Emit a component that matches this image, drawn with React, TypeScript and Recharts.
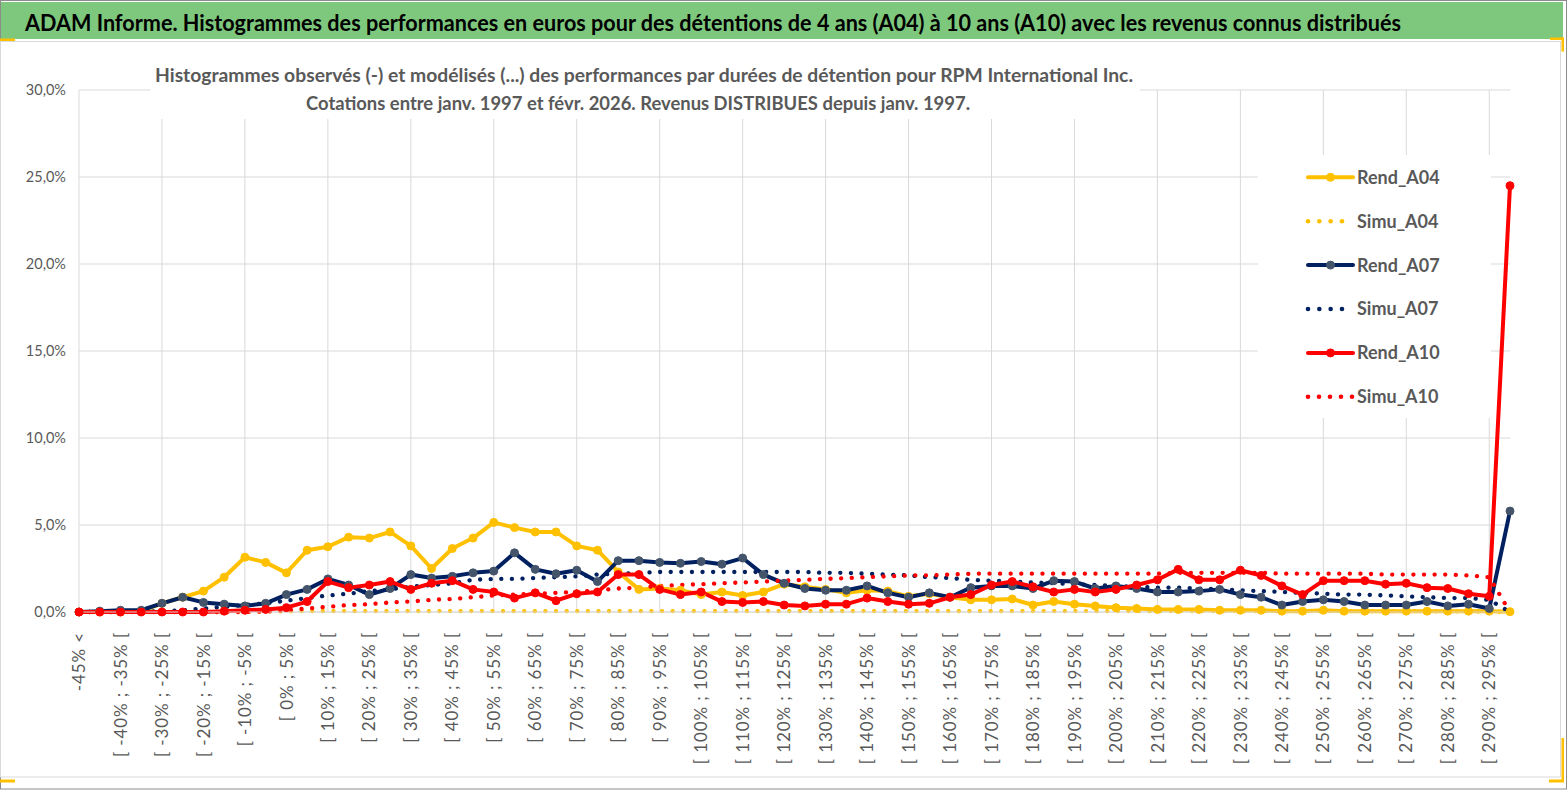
import React from 'react';
import { LineChart, Line, XAxis, YAxis, CartesianGrid, Legend } from 'recharts';

const categories = [
  '-45% <',
  '[ -45% ; -40% [', '[ -40% ; -35% [', '[ -35% ; -30% [', '[ -30% ; -25% [', '[ -25% ; -20% [',
  '[ -20% ; -15% [', '[ -15% ; -10% [', '[ -10% ; -5% [', '[ -5% ; 0% [', '[ 0% ; 5% [',
  '[ 5% ; 10% [', '[ 10% ; 15% [', '[ 15% ; 20% [', '[ 20% ; 25% [', '[ 25% ; 30% [',
  '[ 30% ; 35% [', '[ 35% ; 40% [', '[ 40% ; 45% [', '[ 45% ; 50% [', '[ 50% ; 55% [',
  '[ 55% ; 60% [', '[ 60% ; 65% [', '[ 65% ; 70% [', '[ 70% ; 75% [', '[ 75% ; 80% [',
  '[ 80% ; 85% [', '[ 85% ; 90% [', '[ 90% ; 95% [', '[ 95% ; 100% [', '[ 100% ; 105% [',
  '[ 105% ; 110% [', '[ 110% ; 115% [', '[ 115% ; 120% [', '[ 120% ; 125% [', '[ 125% ; 130% [',
  '[ 130% ; 135% [', '[ 135% ; 140% [', '[ 140% ; 145% [', '[ 145% ; 150% [', '[ 150% ; 155% [',
  '[ 155% ; 160% [', '[ 160% ; 165% [', '[ 165% ; 170% [', '[ 170% ; 175% [', '[ 175% ; 180% [',
  '[ 180% ; 185% [', '[ 185% ; 190% [', '[ 190% ; 195% [', '[ 195% ; 200% [', '[ 200% ; 205% [',
  '[ 205% ; 210% [', '[ 210% ; 215% [', '[ 215% ; 220% [', '[ 220% ; 225% [', '[ 225% ; 230% [',
  '[ 230% ; 235% [', '[ 235% ; 240% [', '[ 240% ; 245% [', '[ 245% ; 250% [', '[ 250% ; 255% [',
  '[ 255% ; 260% [', '[ 260% ; 265% [', '[ 265% ; 270% [', '[ 270% ; 275% [', '[ 275% ; 280% [',
  '[ 280% ; 285% [', '[ 285% ; 290% [', '[ 290% ; 295% [',
  '> 295%',
];

const rendA04 = [
  0, 0, 0, 0.05, 0.5, 0.85, 1.2, 2.0, 3.15, 2.85,
  2.25, 3.55, 3.75, 4.3, 4.25, 4.6, 3.8, 2.5, 3.65, 4.25,
  5.15, 4.85, 4.6, 4.6, 3.8, 3.55, 2.3, 1.3, 1.35, 1.25,
  1.0, 1.15, 0.95, 1.15, 1.6, 1.45, 1.3, 1.1, 1.25, 1.2,
  0.9, 1.05, 0.85, 0.7, 0.7, 0.75, 0.4, 0.6, 0.45, 0.35,
  0.25, 0.2, 0.15, 0.15, 0.15, 0.1, 0.1, 0.1, 0.05, 0.05,
  0.1, 0.05, 0.05, 0.05, 0.05, 0.05, 0.05, 0.05, 0.05, 0.02,
];

const simuA04 = [
  0, 0, 0, 0, 0, 0, 0, 0, 0, 0.02,
  0.04, 0.05, 0.05, 0.05, 0.05, 0.05, 0.05, 0.05, 0.05, 0.05,
  0.05, 0.05, 0.05, 0.05, 0.05, 0.05, 0.05, 0.05, 0.05, 0.05,
  0.05, 0.05, 0.05, 0.05, 0.05, 0.05, 0.05, 0.05, 0.05, 0.05,
  0.05, 0.05, 0.05, 0.05, 0.05, 0.05, 0.05, 0.05, 0.05, 0.05,
  0.05, 0.05, 0.05, 0.05, 0.05, 0.05, 0.05, 0.05, 0.05, 0.05,
  0.05, 0.05, 0.05, 0.05, 0.05, 0.04, 0.04, 0.03, 0.03, 0,
];

const rendA07 = [
  0, 0.05, 0.1, 0.1, 0.5, 0.85, 0.55, 0.45, 0.35, 0.5,
  1.0, 1.3, 1.9, 1.55, 1.0, 1.35, 2.15, 1.95, 2.05, 2.25,
  2.35, 3.4, 2.45, 2.2, 2.4, 1.75, 2.95, 2.95, 2.85, 2.8,
  2.9, 2.75, 3.1, 2.15, 1.65, 1.35, 1.25, 1.25, 1.5, 1.1,
  0.85, 1.1, 0.85, 1.4, 1.5, 1.5, 1.35, 1.8, 1.75, 1.35,
  1.5, 1.35, 1.15, 1.15, 1.2, 1.3, 1.0, 0.85, 0.4, 0.6,
  0.7, 0.6, 0.4, 0.4, 0.4, 0.6, 0.35, 0.45, 0.2, 5.8,
];

const simuA07 = [
  0, 0, 0, 0.02, 0.05, 0.1, 0.2, 0.3, 0.4, 0.5,
  0.65, 0.8, 0.95, 1.05, 1.2, 1.3, 1.45, 1.55, 1.65, 1.85,
  1.9, 1.9, 1.95, 2.0, 2.05, 2.15, 2.2, 2.25, 2.3, 2.3,
  2.3, 2.3, 2.3, 2.3, 2.3, 2.3, 2.25, 2.25, 2.2, 2.15,
  2.1, 2.0, 1.95, 1.85, 1.8, 1.75, 1.7, 1.65, 1.6, 1.55,
  1.5, 1.45, 1.4, 1.4, 1.35, 1.3, 1.25, 1.2, 1.15, 1.1,
  1.05, 1.0, 1.0, 0.95, 0.9, 0.85, 0.8, 0.8, 0.7, 0,
];

const rendA10 = [
  0, 0, 0, 0, 0, 0, 0, 0.05, 0.1, 0.15,
  0.25, 0.6, 1.75, 1.4, 1.55, 1.75, 1.3, 1.65, 1.8, 1.3,
  1.15, 0.8, 1.1, 0.65, 1.05, 1.15, 2.15, 2.15, 1.3, 1.0,
  1.15, 0.6, 0.55, 0.6, 0.4, 0.35, 0.45, 0.45, 0.8, 0.6,
  0.45, 0.5, 0.85, 1.0, 1.55, 1.75, 1.45, 1.15, 1.3, 1.15,
  1.3, 1.55, 1.85, 2.45, 1.85, 1.85, 2.4, 2.1, 1.5, 1.0,
  1.8, 1.8, 1.8, 1.6, 1.65, 1.4, 1.35, 1.05, 0.9, 24.5,
];

const simuA10 = [
  0, 0, 0, 0, 0, 0, 0, 0, 0, 0.03,
  0.1, 0.2, 0.3, 0.4, 0.45, 0.55, 0.6, 0.7, 0.75, 0.85,
  0.95, 1.0, 1.05, 1.1, 1.15, 1.25, 1.35, 1.4, 1.5, 1.55,
  1.6, 1.65, 1.7, 1.75, 1.8, 1.85, 1.9, 1.95, 2.0, 2.05,
  2.1, 2.1, 2.15, 2.2, 2.2, 2.2, 2.2, 2.2, 2.2, 2.2,
  2.2, 2.2, 2.2, 2.25, 2.25, 2.25, 2.25, 2.25, 2.2, 2.2,
  2.2, 2.2, 2.2, 2.15, 2.15, 2.15, 2.15, 2.1, 2.0, 0,
];

const yTicks = [0, 5, 10, 15, 20, 25, 30];

const TITLE = 'ADAM Informe. Histogrammes des performances en euros pour des détentions de 4 ans (A04) à 10 ans (A10) avec les revenus connus distribués';
const SUB1 = 'Histogrammes observés (-) et modélisés (...) des performances par durées de détention pour RPM International Inc.';
const SUB2 = 'Cotations entre janv. 1997 et févr. 2026. Revenus DISTRIBUES depuis janv. 1997.';

const data = categories.map((cat, i) => ({
  cat,
  Rend_A04: rendA04[i],
  Simu_A04: simuA04[i],
  Rend_A07: rendA07[i],
  Simu_A07: simuA07[i],
  Rend_A10: rendA10[i],
  Simu_A10: simuA10[i],
}));

const W = 1567;
const H = 791;
const TXT = '#595959';
const GRID = '#D9D9D9';
const YELLOW = '#FFC000';
const NAVY = '#002060';
const NAVY_MK = '#44546A';
const RED = '#FF0000';
const GOLD = '#FFC000';
const FONT = 'Lato, Calibri, "Liberation Sans", sans-serif';

const fmtPct = (v: number) => v.toFixed(1).replace('.', ',') + '%';

const XTick = (props: any) => {
  const { x, y, payload } = props;
  return (
    <text
      x={x}
      y={y}
      transform={`rotate(-90, ${x}, ${y})`}
      textAnchor="end"
      dy="0.36em"
      fill={TXT}
      fontSize={17}
      fontFamily={FONT}
      letterSpacing={0.9}
    >
      {payload.value}
    </text>
  );
};

const YTick = (props: any) => {
  const { x, y, payload } = props;
  return (
    <text x={x} y={y} textAnchor="end" dy="0.35em" fill={TXT} fontSize={14.5} fontFamily={FONT}>
      {fmtPct(payload.value)}
    </text>
  );
};

const vGen = (props: any) => {
  const { xAxis, offset } = props || {};
  const sc = xAxis && xAxis.scale;
  const n = categories.length;
  const out: number[] = [];
  categories.forEach((c, i) => {
    if (i % 4 !== 0) return;
    let v: any = typeof sc === 'function' ? sc(c) : undefined;
    if (!Number.isFinite(v) && offset) v = offset.left + (i * offset.width) / (n - 1);
    if (Number.isFinite(v)) out.push(v);
  });
  return out;
};

const legendItems = [
  { name: 'Rend_A04', color: YELLOW, mk: YELLOW, dots: 0 },
  { name: 'Simu_A04', color: YELLOW, mk: YELLOW, dots: 4 },
  { name: 'Rend_A07', color: NAVY, mk: NAVY_MK, dots: 0 },
  { name: 'Simu_A07', color: NAVY, mk: NAVY, dots: 4 },
  { name: 'Rend_A10', color: RED, mk: RED, dots: 0 },
  { name: 'Simu_A10', color: RED, mk: RED, dots: 5 },
];

const LegendBox = () => {
  const w = 233;
  const h = 263;
  return (
    <svg width={w} height={h} style={{ display: 'block' }}>
      <rect x={0} y={0} width={w} height={h} fill="#FFFFFF" />
      {legendItems.map((it, i) => {
        const cy = 22.3 + i * 43.9;
        const x0 = 50;
        const x1 = 95;
        return (
          <g key={it.name}>
            {it.dots === 0 ? (
              <g>
                <line x1={x0} y1={cy} x2={x1} y2={cy} stroke={it.color} strokeWidth={4} strokeLinecap="round" />
                <circle cx={(x0 + x1) / 2} cy={cy} r={4} fill={it.mk} stroke={it.mk} />
              </g>
            ) : (
              <g>
                {Array.from({ length: it.dots }).map((_, k) => (
                  <circle
                    key={k}
                    cx={x0 + (k * (it.dots === 5 ? 44 : 34)) / (it.dots - 1)}
                    cy={cy}
                    r={2.3}
                    fill={it.color}
                  />
                ))}
              </g>
            )}
            <text x={99} y={cy} dy="0.36em" fill={TXT} fontSize={18} fontWeight={700} fontFamily={FONT}>
              {it.name}
            </text>
          </g>
        );
      })}
    </svg>
  );
};

const solid = (key: string, color: string, mk: string) => (
  <Line
    key={key}
    type="linear"
    dataKey={key}
    name={key}
    stroke={color}
    strokeWidth={4}
    strokeLinejoin="round"
    dot={{ r: 4, fill: mk, stroke: mk, strokeWidth: 1 }}
    activeDot={false}
    isAnimationActive={false}
  />
);

const dotted = (key: string, color: string) => (
  <Line
    key={key}
    type="linear"
    dataKey={key}
    name={key}
    stroke={color}
    strokeWidth={4.3}
    strokeLinecap="round"
    strokeDasharray="0.1 10.5"
    dot={false}
    activeDot={false}
    isAnimationActive={false}
  />
);

export default function App() {
  return (
    <div style={{ position: 'absolute', left: 0, top: 0, width: W, height: H, background: '#FFFFFF', overflow: 'hidden' }}>
      <div style={{ position: 'absolute', left: 0, top: 0 }}>
        <LineChart width={W} height={H} data={data} margin={{ top: 90, right: 57, bottom: 0, left: 0 }}>
          <CartesianGrid stroke={GRID} strokeWidth={1} horizontal vertical verticalCoordinatesGenerator={vGen} />
          <XAxis
            dataKey="cat"
            interval={1}
            height={179}
            tickSize={0}
            tickMargin={20}
            tickLine={false}
            axisLine={{ stroke: GRID }}
            tick={<XTick />}
          />
          <YAxis
            width={79}
            domain={[0, 30]}
            ticks={yTicks}
            tickSize={0}
            tickMargin={13}
            tickLine={false}
            axisLine={false}
            tick={<YTick />}
          />
          <Legend
            layout="vertical"
            align="center"
            verticalAlign="middle"
            content={() => <LegendBox />}
            wrapperStyle={{ position: 'absolute', left: 1258, top: 155, width: 233, height: 263 }}
          />
          {solid('Rend_A04', YELLOW, YELLOW)}
          {dotted('Simu_A04', YELLOW)}
          {solid('Rend_A07', NAVY, NAVY_MK)}
          {dotted('Simu_A07', NAVY)}
          {solid('Rend_A10', RED, RED)}
          {dotted('Simu_A10', RED)}
        </LineChart>
      </div>
      <svg width={W} height={H} style={{ position: 'absolute', left: 0, top: 0, pointerEvents: 'none' }}>
        <rect x={0.5} y={0.5} width={W - 1} height={788.5} fill="none" stroke="#8C8C8C" strokeWidth={1} />
        <rect x={1} y={2} width={1562} height={37} fill="#7EC87E" />
        <text x={25} y={31} fill="#000000" fontSize={23} fontWeight={700} fontFamily={FONT} textLength={1376} lengthAdjust="spacingAndGlyphs">
          {TITLE}
        </text>
        <rect x={0.5} y={41.5} width={1560} height={735.5} fill="none" stroke={GRID} strokeWidth={1} />
        <rect x={150} y={55} width={990} height={64} fill="#FFFFFF" />
        <text x={155} y={82} fill={TXT} fontSize={19} fontWeight={700} fontFamily={FONT} textLength={978} lengthAdjust="spacingAndGlyphs">
          {SUB1}
        </text>
        <text x={306} y={110} fill={TXT} fontSize={19} fontWeight={700} fontFamily={FONT} textLength={664} lengthAdjust="spacingAndGlyphs">
          {SUB2}
        </text>
        <rect x={0} y={38.5} width={15} height={2.5} fill={GOLD} />
        <rect x={1550} y={37.5} width={14} height={2.5} fill={GOLD} />
        <rect x={1561.5} y={37.5} width={2.5} height={14} fill={GOLD} />
        <rect x={0} y={779.5} width={15} height={3} fill={GOLD} />
        <rect x={1549} y={779.5} width={15} height={3} fill={GOLD} />
        <rect x={1561.5} y={738} width={2.5} height={44} fill={GOLD} />
      </svg>
    </div>
  );
}
